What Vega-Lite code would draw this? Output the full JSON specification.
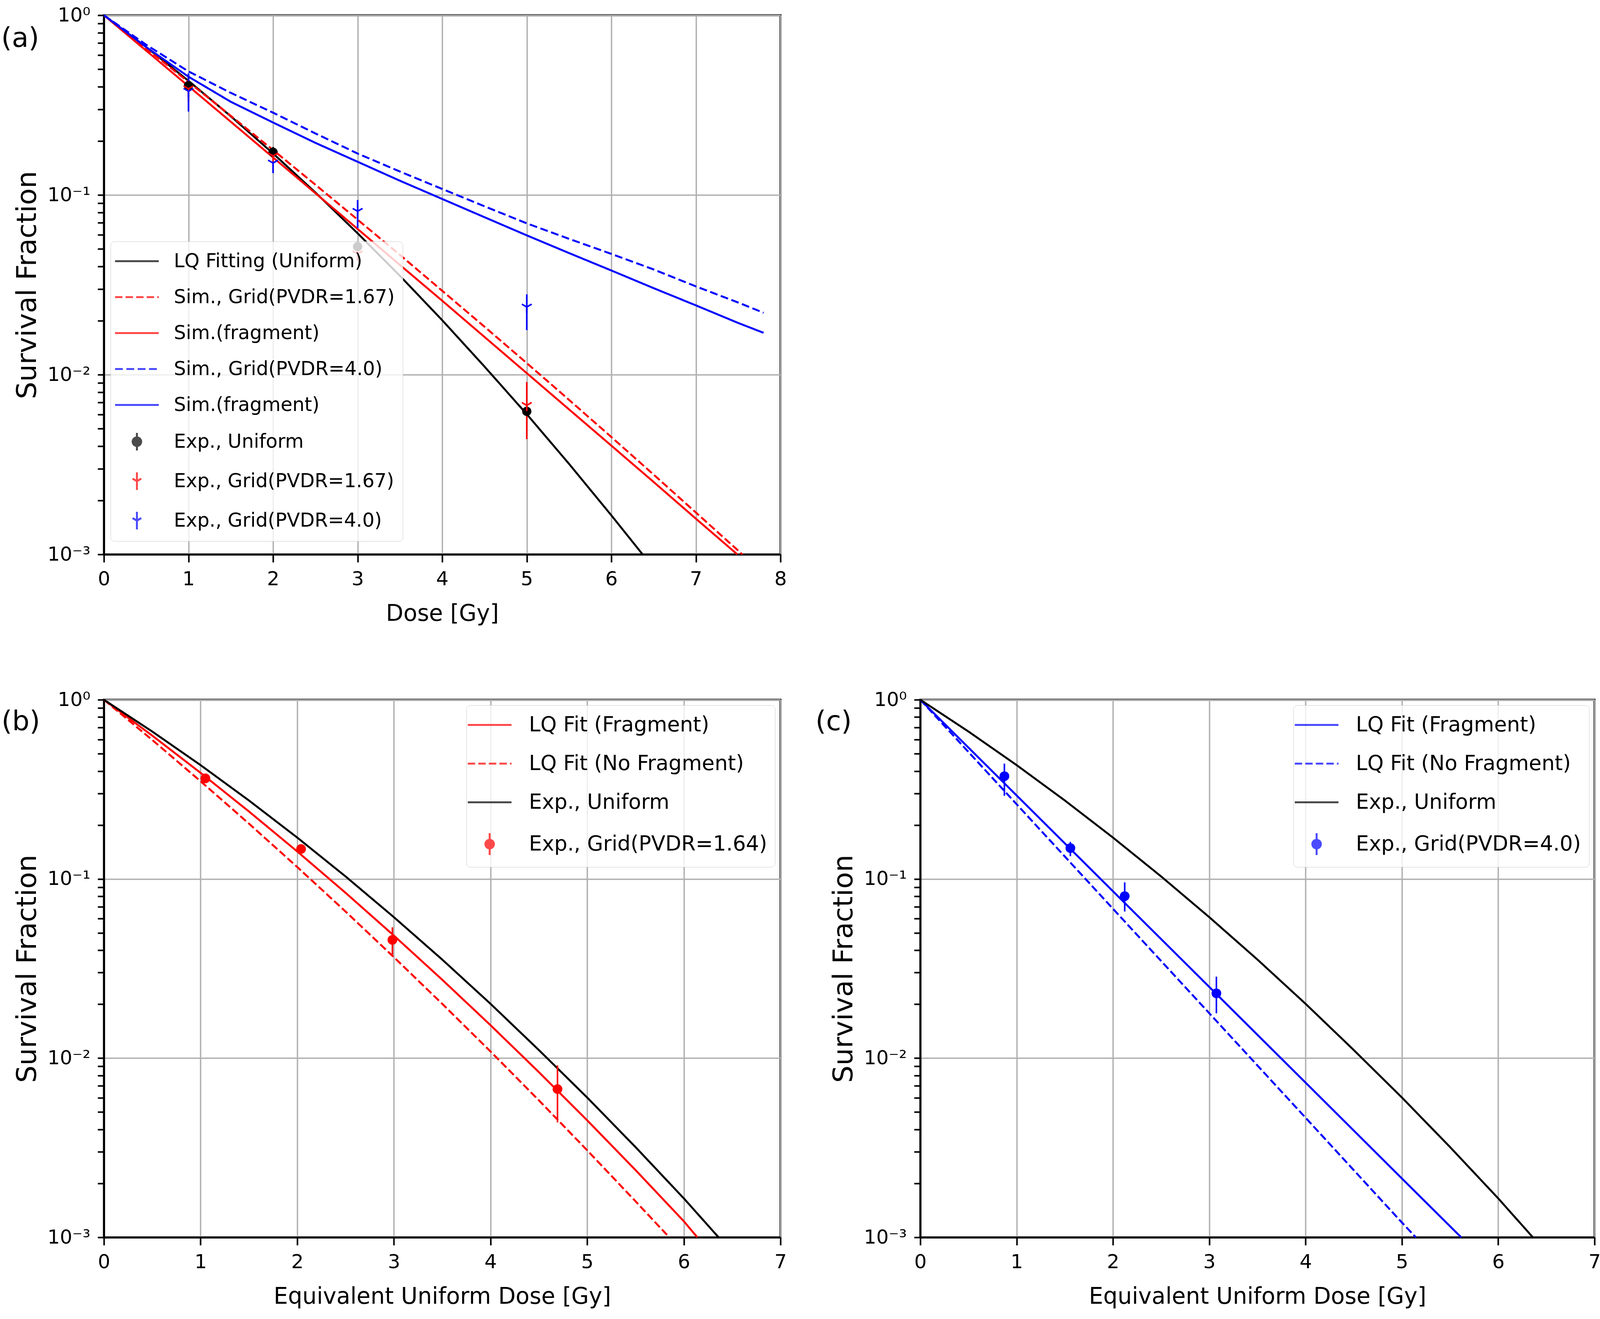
{
  "$schema": "https://vega.github.io/schema/vega-lite/v6.json",
  "padding": {"left": 0, "top": 11, "right": 0, "bottom": 0},
  "background": "white",
  "datasets": {
    "aLines": [
      {"s": "LQ Fitting (Uniform)", "d": 0, "sf": 1},
      {"s": "LQ Fitting (Uniform)", "d": 0.5, "sf": 0.6647},
      {"s": "LQ Fitting (Uniform)", "d": 1, "sf": 0.4318},
      {"s": "LQ Fitting (Uniform)", "d": 1.5, "sf": 0.2742},
      {"s": "LQ Fitting (Uniform)", "d": 2, "sf": 0.1702},
      {"s": "LQ Fitting (Uniform)", "d": 2.5, "sf": 0.1033},
      {"s": "LQ Fitting (Uniform)", "d": 3, "sf": 0.0612},
      {"s": "LQ Fitting (Uniform)", "d": 3.5, "sf": 0.0355},
      {"s": "LQ Fitting (Uniform)", "d": 4, "sf": 0.0201},
      {"s": "LQ Fitting (Uniform)", "d": 4.5, "sf": 0.0111},
      {"s": "LQ Fitting (Uniform)", "d": 5, "sf": 0.00603},
      {"s": "LQ Fitting (Uniform)", "d": 5.5, "sf": 0.00319},
      {"s": "LQ Fitting (Uniform)", "d": 6, "sf": 0.00165},
      {"s": "LQ Fitting (Uniform)", "d": 6.37, "sf": 0.001},
      {"s": "Sim., Grid(PVDR=1.67)", "d": 0, "sf": 1},
      {"s": "Sim., Grid(PVDR=1.67)", "d": 0.5, "sf": 0.6538},
      {"s": "Sim., Grid(PVDR=1.67)", "d": 1, "sf": 0.4255},
      {"s": "Sim., Grid(PVDR=1.67)", "d": 1.5, "sf": 0.2757},
      {"s": "Sim., Grid(PVDR=1.67)", "d": 2, "sf": 0.1779},
      {"s": "Sim., Grid(PVDR=1.67)", "d": 2.5, "sf": 0.1141},
      {"s": "Sim., Grid(PVDR=1.67)", "d": 3, "sf": 0.0729},
      {"s": "Sim., Grid(PVDR=1.67)", "d": 3.5, "sf": 0.0464},
      {"s": "Sim., Grid(PVDR=1.67)", "d": 4, "sf": 0.0293},
      {"s": "Sim., Grid(PVDR=1.67)", "d": 4.5, "sf": 0.01849},
      {"s": "Sim., Grid(PVDR=1.67)", "d": 5, "sf": 0.0116},
      {"s": "Sim., Grid(PVDR=1.67)", "d": 5.5, "sf": 0.00724},
      {"s": "Sim., Grid(PVDR=1.67)", "d": 6, "sf": 0.0045},
      {"s": "Sim., Grid(PVDR=1.67)", "d": 6.5, "sf": 0.00278},
      {"s": "Sim., Grid(PVDR=1.67)", "d": 7, "sf": 0.00171},
      {"s": "Sim., Grid(PVDR=1.67)", "d": 7.55, "sf": 0.001},
      {"s": "Sim.(fragment)", "d": 0, "sf": 1},
      {"s": "Sim.(fragment)", "d": 0.5, "sf": 0.6353},
      {"s": "Sim.(fragment)", "d": 1, "sf": 0.4032},
      {"s": "Sim.(fragment)", "d": 1.5, "sf": 0.2556},
      {"s": "Sim.(fragment)", "d": 2, "sf": 0.1618},
      {"s": "Sim.(fragment)", "d": 2.5, "sf": 0.1024},
      {"s": "Sim.(fragment)", "d": 3, "sf": 0.0647},
      {"s": "Sim.(fragment)", "d": 3.5, "sf": 0.0408},
      {"s": "Sim.(fragment)", "d": 4, "sf": 0.0258},
      {"s": "Sim.(fragment)", "d": 4.5, "sf": 0.01622},
      {"s": "Sim.(fragment)", "d": 5, "sf": 0.0102},
      {"s": "Sim.(fragment)", "d": 5.5, "sf": 0.00641},
      {"s": "Sim.(fragment)", "d": 6, "sf": 0.00403},
      {"s": "Sim.(fragment)", "d": 6.5, "sf": 0.00253},
      {"s": "Sim.(fragment)", "d": 7, "sf": 0.00158},
      {"s": "Sim.(fragment)", "d": 7.49, "sf": 0.001},
      {"s": "Sim., Grid(PVDR=4.0)", "d": 0, "sf": 1},
      {"s": "Sim., Grid(PVDR=4.0)", "d": 0.5, "sf": 0.685},
      {"s": "Sim., Grid(PVDR=4.0)", "d": 1, "sf": 0.487},
      {"s": "Sim., Grid(PVDR=4.0)", "d": 1.5, "sf": 0.37},
      {"s": "Sim., Grid(PVDR=4.0)", "d": 2, "sf": 0.287},
      {"s": "Sim., Grid(PVDR=4.0)", "d": 2.5, "sf": 0.22},
      {"s": "Sim., Grid(PVDR=4.0)", "d": 3, "sf": 0.17},
      {"s": "Sim., Grid(PVDR=4.0)", "d": 3.5, "sf": 0.135},
      {"s": "Sim., Grid(PVDR=4.0)", "d": 4, "sf": 0.108},
      {"s": "Sim., Grid(PVDR=4.0)", "d": 4.5, "sf": 0.0865},
      {"s": "Sim., Grid(PVDR=4.0)", "d": 5, "sf": 0.0695},
      {"s": "Sim., Grid(PVDR=4.0)", "d": 5.5, "sf": 0.057},
      {"s": "Sim., Grid(PVDR=4.0)", "d": 6, "sf": 0.047},
      {"s": "Sim., Grid(PVDR=4.0)", "d": 6.5, "sf": 0.0385},
      {"s": "Sim., Grid(PVDR=4.0)", "d": 7, "sf": 0.031},
      {"s": "Sim., Grid(PVDR=4.0)", "d": 7.5, "sf": 0.0252},
      {"s": "Sim., Grid(PVDR=4.0)", "d": 7.8, "sf": 0.0221},
      {"s": "Sim.(fragment) ", "d": 0, "sf": 1},
      {"s": "Sim.(fragment) ", "d": 0.5, "sf": 0.665},
      {"s": "Sim.(fragment) ", "d": 1, "sf": 0.455},
      {"s": "Sim.(fragment) ", "d": 1.5, "sf": 0.33},
      {"s": "Sim.(fragment) ", "d": 2, "sf": 0.253},
      {"s": "Sim.(fragment) ", "d": 2.5, "sf": 0.195},
      {"s": "Sim.(fragment) ", "d": 3, "sf": 0.153},
      {"s": "Sim.(fragment) ", "d": 3.5, "sf": 0.12},
      {"s": "Sim.(fragment) ", "d": 4, "sf": 0.095},
      {"s": "Sim.(fragment) ", "d": 4.5, "sf": 0.0752},
      {"s": "Sim.(fragment) ", "d": 5, "sf": 0.0596},
      {"s": "Sim.(fragment) ", "d": 5.5, "sf": 0.0475},
      {"s": "Sim.(fragment) ", "d": 6, "sf": 0.038},
      {"s": "Sim.(fragment) ", "d": 6.5, "sf": 0.0303},
      {"s": "Sim.(fragment) ", "d": 7, "sf": 0.0243},
      {"s": "Sim.(fragment) ", "d": 7.5, "sf": 0.0194},
      {"s": "Sim.(fragment) ", "d": 7.8, "sf": 0.0171}
    ],
    "aPts": [
      {"s": "Exp., Uniform", "d": 1, "sf": 0.406, "lo": 0.35, "hi": 0.466},
      {"s": "Exp., Uniform", "d": 2, "sf": 0.173, "lo": 0.161, "hi": 0.185},
      {"s": "Exp., Uniform", "d": 3, "sf": 0.0516, "lo": 0.048, "hi": 0.055},
      {"s": "Exp., Uniform", "d": 5, "sf": 0.00625, "lo": 0.0058, "hi": 0.0067},
      {"s": "Exp., Grid(PVDR=1.67)", "d": 1, "sf": 0.39, "lo": 0.33, "hi": 0.45},
      {"s": "Exp., Grid(PVDR=1.67)", "d": 2, "sf": 0.165, "lo": 0.15, "hi": 0.18},
      {"s": "Exp., Grid(PVDR=1.67)", "d": 3, "sf": 0.047, "lo": 0.043, "hi": 0.051},
      {"s": "Exp., Grid(PVDR=1.67)", "d": 5, "sf": 0.00675, "lo": 0.00438, "hi": 0.0091},
      {"s": "Exp., Grid(PVDR=4.0)", "d": 1, "sf": 0.3775, "lo": 0.291, "hi": 0.475},
      {"s": "Exp., Grid(PVDR=4.0)", "d": 2, "sf": 0.1506, "lo": 0.1323, "hi": 0.17},
      {"s": "Exp., Grid(PVDR=4.0)", "d": 3, "sf": 0.0811, "lo": 0.0654, "hi": 0.0937},
      {"s": "Exp., Grid(PVDR=4.0)", "d": 5, "sf": 0.0238, "lo": 0.0177, "hi": 0.028}
    ],
    "bLines": [
      {"s": "LQ Fit (Fragment)", "d": 0, "sf": 1},
      {"s": "LQ Fit (Fragment)", "d": 0.5, "sf": 0.6308},
      {"s": "LQ Fit (Fragment)", "d": 1, "sf": 0.391},
      {"s": "LQ Fit (Fragment)", "d": 1.5, "sf": 0.2381},
      {"s": "LQ Fit (Fragment)", "d": 2, "sf": 0.1424},
      {"s": "LQ Fit (Fragment)", "d": 2.5, "sf": 0.0837},
      {"s": "LQ Fit (Fragment)", "d": 3, "sf": 0.0483},
      {"s": "LQ Fit (Fragment)", "d": 3.5, "sf": 0.0274},
      {"s": "LQ Fit (Fragment)", "d": 4, "sf": 0.01527},
      {"s": "LQ Fit (Fragment)", "d": 4.5, "sf": 0.00836},
      {"s": "LQ Fit (Fragment)", "d": 5, "sf": 0.0045},
      {"s": "LQ Fit (Fragment)", "d": 5.5, "sf": 0.002375},
      {"s": "LQ Fit (Fragment)", "d": 6, "sf": 0.00123},
      {"s": "LQ Fit (Fragment)", "d": 6.14, "sf": 0.001},
      {"s": "LQ Fit (No Fragment)", "d": 0, "sf": 1},
      {"s": "LQ Fit (No Fragment)", "d": 0.5, "sf": 0.5966},
      {"s": "LQ Fit (No Fragment)", "d": 1, "sf": 0.351},
      {"s": "LQ Fit (No Fragment)", "d": 1.5, "sf": 0.2037},
      {"s": "LQ Fit (No Fragment)", "d": 2, "sf": 0.1166},
      {"s": "LQ Fit (No Fragment)", "d": 2.5, "sf": 0.0658},
      {"s": "LQ Fit (No Fragment)", "d": 3, "sf": 0.0366},
      {"s": "LQ Fit (No Fragment)", "d": 3.5, "sf": 0.0201},
      {"s": "LQ Fit (No Fragment)", "d": 4, "sf": 0.0109},
      {"s": "LQ Fit (No Fragment)", "d": 4.5, "sf": 0.00582},
      {"s": "LQ Fit (No Fragment)", "d": 5, "sf": 0.00306},
      {"s": "LQ Fit (No Fragment)", "d": 5.5, "sf": 0.00159},
      {"s": "LQ Fit (No Fragment)", "d": 5.85, "sf": 0.001},
      {"s": "Exp., Uniform", "d": 0, "sf": 1},
      {"s": "Exp., Uniform", "d": 0.5, "sf": 0.6647},
      {"s": "Exp., Uniform", "d": 1, "sf": 0.4318},
      {"s": "Exp., Uniform", "d": 1.5, "sf": 0.2742},
      {"s": "Exp., Uniform", "d": 2, "sf": 0.1702},
      {"s": "Exp., Uniform", "d": 2.5, "sf": 0.1033},
      {"s": "Exp., Uniform", "d": 3, "sf": 0.0612},
      {"s": "Exp., Uniform", "d": 3.5, "sf": 0.0355},
      {"s": "Exp., Uniform", "d": 4, "sf": 0.0201},
      {"s": "Exp., Uniform", "d": 4.5, "sf": 0.0111},
      {"s": "Exp., Uniform", "d": 5, "sf": 0.00603},
      {"s": "Exp., Uniform", "d": 5.5, "sf": 0.00319},
      {"s": "Exp., Uniform", "d": 6, "sf": 0.00165},
      {"s": "Exp., Uniform", "d": 6.36, "sf": 0.001}
    ],
    "bPts": [
      {"s": "Exp., Grid(PVDR=1.64)", "d": 1.05, "sf": 0.364, "lo": 0.345, "hi": 0.385},
      {"s": "Exp., Grid(PVDR=1.64)", "d": 2.04, "sf": 0.147, "lo": 0.14, "hi": 0.155},
      {"s": "Exp., Grid(PVDR=1.64)", "d": 2.985, "sf": 0.0457, "lo": 0.0378, "hi": 0.0537},
      {"s": "Exp., Grid(PVDR=1.64)", "d": 4.693, "sf": 0.00672, "lo": 0.00438, "hi": 0.0091}
    ],
    "cLines": [
      {"s": "LQ Fit (Fragment)", "d": 0, "sf": 1},
      {"s": "LQ Fit (Fragment)", "d": 1, "sf": 0.2923},
      {"s": "LQ Fit (Fragment)", "d": 2, "sf": 0.0854},
      {"s": "LQ Fit (Fragment)", "d": 3, "sf": 0.02497},
      {"s": "LQ Fit (Fragment)", "d": 4, "sf": 0.0073},
      {"s": "LQ Fit (Fragment)", "d": 5, "sf": 0.00213},
      {"s": "LQ Fit (Fragment)", "d": 5.616, "sf": 0.001},
      {"s": "LQ Fit (No Fragment)", "d": 0, "sf": 1},
      {"s": "LQ Fit (No Fragment)", "d": 1, "sf": 0.2612},
      {"s": "LQ Fit (No Fragment)", "d": 2, "sf": 0.0682},
      {"s": "LQ Fit (No Fragment)", "d": 3, "sf": 0.01781},
      {"s": "LQ Fit (No Fragment)", "d": 4, "sf": 0.00465},
      {"s": "LQ Fit (No Fragment)", "d": 5, "sf": 0.00121},
      {"s": "LQ Fit (No Fragment)", "d": 5.145, "sf": 0.001},
      {"s": "Exp., Uniform", "d": 0, "sf": 1},
      {"s": "Exp., Uniform", "d": 0.5, "sf": 0.6647},
      {"s": "Exp., Uniform", "d": 1, "sf": 0.4318},
      {"s": "Exp., Uniform", "d": 1.5, "sf": 0.2742},
      {"s": "Exp., Uniform", "d": 2, "sf": 0.1702},
      {"s": "Exp., Uniform", "d": 2.5, "sf": 0.1033},
      {"s": "Exp., Uniform", "d": 3, "sf": 0.0612},
      {"s": "Exp., Uniform", "d": 3.5, "sf": 0.0355},
      {"s": "Exp., Uniform", "d": 4, "sf": 0.0201},
      {"s": "Exp., Uniform", "d": 4.5, "sf": 0.0111},
      {"s": "Exp., Uniform", "d": 5, "sf": 0.00603},
      {"s": "Exp., Uniform", "d": 5.5, "sf": 0.00319},
      {"s": "Exp., Uniform", "d": 6, "sf": 0.00165},
      {"s": "Exp., Uniform", "d": 6.36, "sf": 0.001}
    ],
    "cPts": [
      {"s": "Exp., Grid(PVDR=4.0)", "d": 0.873, "sf": 0.3745, "lo": 0.291, "hi": 0.44},
      {"s": "Exp., Grid(PVDR=4.0)", "d": 1.558, "sf": 0.1487, "lo": 0.134, "hi": 0.161},
      {"s": "Exp., Grid(PVDR=4.0)", "d": 2.122, "sf": 0.0802, "lo": 0.0658, "hi": 0.0957},
      {"s": "Exp., Grid(PVDR=4.0)", "d": 3.074, "sf": 0.023, "lo": 0.0178, "hi": 0.0285}
    ]
  },
  "vconcat": [
    {
      "width": 1732,
      "height": 1380,
      "layer": [
        {
          "data": {"name": "aLines"},
          "mark": {"type": "line", "strokeWidth": 5},
          "encoding": {
            "x": {"field": "d", "type": "quantitative", "scale": {"domain": [0, 8], "nice": false},
              "axis": {"title": "Dose [Gy]", "values": [0, 1, 2, 3, 4, 5, 6, 7, 8], "format": "d"}},
            "y": {"field": "sf", "type": "quantitative", "scale": {"type": "log", "domain": [0.001, 1], "nice": false},
              "axis": {
                "title": "Survival Fraction",
                "values": [0.001, 0.002, 0.003, 0.004, 0.005, 0.006, 0.007, 0.008, 0.009, 0.01, 0.02, 0.03, 0.04, 0.05, 0.06, 0.07, 0.08, 0.09, 0.1, 0.2, 0.3, 0.4, 0.5, 0.6, 0.7, 0.8, 0.9, 1],
                "labelExpr": "datum.value == 1 ? '10⁰' : datum.value == 0.1 ? '10⁻¹' : datum.value == 0.01 ? '10⁻²' : datum.value == 0.001 ? '10⁻³' : ''",
                "gridOpacity": {"condition": {"test": "indexof([1, 0.1, 0.01, 0.001], datum.value) >= 0", "value": 1}, "value": 0},
                "encode": {"ticks": {"x2": {"value": {"expr": "indexof([1, 0.1, 0.01, 0.001], datum.value) >= 0 ? -16 : -10"}}}}
              }},
            "color": {
              "field": "s", "type": "nominal",
              "scale": {
                "domain": ["LQ Fitting (Uniform)", "Sim., Grid(PVDR=1.67)", "Sim.(fragment)", "Sim., Grid(PVDR=4.0)", "Sim.(fragment) ", "Exp., Uniform", "Exp., Grid(PVDR=1.67)", "Exp., Grid(PVDR=4.0)"],
                "range": ["black", "red", "red", "blue", "blue", "black", "red", "blue"]
              },
              "legend": {
                "title": null,
                "orient": "none",
                "legendX": 17,
                "legendY": 579,
                "direction": "vertical",
                "labelFontSize": 49,
                "labelLimit": 3000,
                "symbolSize": 3136,
                "symbolStrokeWidth": 5,
                "symbolOpacity": 1,
                "labelOffset": 64,
                "symbolOffset": 17,
                "padding": 20,
                "rowPadding": 36,
                "fillColor": "rgba(255,255,255,0.8)",
                "strokeColor": "#cccccc",
                "cornerRadius": 10
              }
            },
            "strokeDash": {
              "field": "s", "type": "nominal",
              "scale": {
                "domain": ["LQ Fitting (Uniform)", "Sim., Grid(PVDR=1.67)", "Sim.(fragment)", "Sim., Grid(PVDR=4.0)", "Sim.(fragment) ", "Exp., Uniform", "Exp., Grid(PVDR=1.67)", "Exp., Grid(PVDR=4.0)"],
                "range": [[1, 0], [19, 8], [1, 0], [20, 9], [1, 0], [1, 0], [1, 0], [1, 0]]
              }
            },
            "strokeWidth": {"condition": {"test": "datum.s == 'Sim., Grid(PVDR=4.0)' || datum.s == 'Sim.(fragment) '", "value": 6.5}, "value": 5}
          }
        },
        {
          "data": {"name": "aPts"},
          "transform": [{"filter": "false"}],
          "mark": {"type": "point"},
          "encoding": {
            "x": {"field": "d", "type": "quantitative"},
            "y": {"field": "sf", "type": "quantitative"},
            "shape": {
              "field": "s", "type": "nominal",
              "scale": {
                "domain": ["LQ Fitting (Uniform)", "Sim., Grid(PVDR=1.67)", "Sim.(fragment)", "Sim., Grid(PVDR=4.0)", "Sim.(fragment) ", "Exp., Uniform", "Exp., Grid(PVDR=1.67)", "Exp., Grid(PVDR=4.0)"],
                "range": ["M-2,0L2,0", "M-2,0L2,0", "M-2,0L2,0", "M-2,0L2,0", "M-2,0L2,0",
                  "M0,-0.8L0,0.8M0.39,0A0.39,0.39,0,1,1,-0.39,0A0.39,0.39,0,1,1,0.39,0M0.25,0A0.25,0.25,0,1,1,-0.25,0A0.25,0.25,0,1,1,0.25,0M0.11,0A0.11,0.11,0,1,1,-0.11,0A0.11,0.11,0,1,1,0.11,0",
                  "M0,-0.8L0,0.8M0,0L-0.4,-0.23M0,0L0.4,-0.23",
                  "M0,-0.8L0,0.8M0,0L-0.4,-0.23M0,0L0.4,-0.23"]
              }
            }
          }
        },
        {
          "data": {"name": "aPts"},
          "mark": {"type": "rule", "strokeWidth": 4},
          "encoding": {
            "x": {"field": "d", "type": "quantitative"},
            "y": {"field": "lo", "type": "quantitative"},
            "y2": {"field": "hi"},
            "color": {"field": "s", "type": "nominal", "legend": null}
          }
        },
        {
          "data": {"name": "aPts"},
          "transform": [{"filter": "datum.s == 'Exp., Uniform'"}],
          "mark": {"type": "point", "shape": "circle", "filled": true, "size": 560, "opacity": 1},
          "encoding": {
            "x": {"field": "d", "type": "quantitative"},
            "y": {"field": "sf", "type": "quantitative"},
            "color": {"field": "s", "type": "nominal", "legend": null}
          }
        },
        {
          "data": {"name": "aPts"},
          "transform": [{"filter": "datum.s != 'Exp., Uniform'"}],
          "mark": {"type": "point", "shape": "M0,0L0,1M0,0L-0.866,-0.5M0,0L0.866,-0.5", "filled": false, "size": 841, "strokeWidth": 4, "opacity": 1},
          "encoding": {
            "x": {"field": "d", "type": "quantitative"},
            "y": {"field": "sf", "type": "quantitative"},
            "color": {"field": "s", "type": "nominal", "legend": null}
          }
        },
        {
          "data": {"values": [{"t": "(a)"}]},
          "mark": {"type": "text", "fontSize": 70, "align": "center", "baseline": "middle", "color": "black"},
          "encoding": {
            "x": {"datum": -0.99, "type": "quantitative"},
            "y": {"datum": 0.741, "type": "quantitative"},
            "text": {"field": "t"}
          }
        }
      ]
    },
    {
      "hconcat": [
        {
          "width": 1732,
          "height": 1376,
          "layer": [
            {
              "data": {"name": "bLines"},
              "mark": {"type": "line", "strokeWidth": 5},
              "encoding": {
                "x": {"field": "d", "type": "quantitative", "scale": {"domain": [0, 7], "nice": false},
                  "axis": {"title": "Equivalent Uniform Dose [Gy]", "values": [0, 1, 2, 3, 4, 5, 6, 7], "format": "d"}},
                "y": {"field": "sf", "type": "quantitative", "scale": {"type": "log", "domain": [0.001, 1], "nice": false},
                  "axis": {
                    "title": "Survival Fraction",
                    "values": [0.001, 0.002, 0.003, 0.004, 0.005, 0.006, 0.007, 0.008, 0.009, 0.01, 0.02, 0.03, 0.04, 0.05, 0.06, 0.07, 0.08, 0.09, 0.1, 0.2, 0.3, 0.4, 0.5, 0.6, 0.7, 0.8, 0.9, 1],
                    "labelExpr": "datum.value == 1 ? '10⁰' : datum.value == 0.1 ? '10⁻¹' : datum.value == 0.01 ? '10⁻²' : datum.value == 0.001 ? '10⁻³' : ''",
                    "gridOpacity": {"condition": {"test": "indexof([1, 0.1, 0.01, 0.001], datum.value) >= 0", "value": 1}, "value": 0},
                    "encode": {"ticks": {"x2": {"value": {"expr": "indexof([1, 0.1, 0.01, 0.001], datum.value) >= 0 ? -16 : -10"}}}}
                  }},
                "color": {
                  "field": "s", "type": "nominal",
                  "scale": {
                    "domain": ["LQ Fit (Fragment)", "LQ Fit (No Fragment)", "Exp., Uniform", "Exp., Grid(PVDR=1.64)"],
                    "range": ["red", "red", "black", "red"]
                  },
                  "legend": {
                    "title": null,
                    "orient": "top-right",
                    "offset": 14,
                    "direction": "vertical",
                    "labelFontSize": 53,
                    "labelLimit": 3000,
                    "symbolSize": 3136,
                    "symbolStrokeWidth": 5,
                    "symbolOpacity": 1,
                    "labelOffset": 70,
                    "symbolOffset": 9,
                    "padding": 20,
                    "rowPadding": 41,
                    "fillColor": "rgba(255,255,255,0.8)",
                    "strokeColor": "#cccccc",
                    "cornerRadius": 10
                  }
                },
                "strokeDash": {
                  "field": "s", "type": "nominal",
                  "scale": {"domain": ["LQ Fit (Fragment)", "LQ Fit (No Fragment)", "Exp., Uniform", "Exp., Grid(PVDR=1.64)"], "range": [[1, 0], [19, 8], [1, 0], [1, 0]]}
                }
              }
            },
            {
              "data": {"name": "bPts"},
              "transform": [{"filter": "false"}],
              "mark": {"type": "point"},
              "encoding": {
                "x": {"field": "d", "type": "quantitative"},
                "y": {"field": "sf", "type": "quantitative"},
                "shape": {
                  "field": "s", "type": "nominal",
                  "scale": {
                    "domain": ["LQ Fit (Fragment)", "LQ Fit (No Fragment)", "Exp., Uniform", "Exp., Grid(PVDR=1.64)"],
                    "range": ["M-2,0L2,0", "M-2,0L2,0", "M-2,0L2,0",
                      "M0,-1L0,1M0.39,0A0.39,0.39,0,1,1,-0.39,0A0.39,0.39,0,1,1,0.39,0M0.25,0A0.25,0.25,0,1,1,-0.25,0A0.25,0.25,0,1,1,0.25,0M0.11,0A0.11,0.11,0,1,1,-0.11,0A0.11,0.11,0,1,1,0.11,0"]
                  }
                }
              }
            },
            {
              "data": {"name": "bPts"},
              "mark": {"type": "rule", "strokeWidth": 4},
              "encoding": {
                "x": {"field": "d", "type": "quantitative"},
                "y": {"field": "lo", "type": "quantitative"},
                "y2": {"field": "hi"},
                "color": {"field": "s", "type": "nominal", "legend": null}
              }
            },
            {
              "data": {"name": "bPts"},
              "mark": {"type": "point", "shape": "circle", "filled": true, "size": 620, "opacity": 1},
              "encoding": {
                "x": {"field": "d", "type": "quantitative"},
                "y": {"field": "sf", "type": "quantitative"},
                "color": {"field": "s", "type": "nominal", "legend": null}
              }
            },
            {
              "data": {"values": [{"t": "(b)"}]},
              "mark": {"type": "text", "fontSize": 70, "align": "center", "baseline": "middle", "color": "black"},
              "encoding": {
                "x": {"datum": -0.86, "type": "quantitative"},
                "y": {"datum": 0.752, "type": "quantitative"},
                "text": {"field": "t"}
              }
            }
          ]
        },
        {
          "width": 1726,
          "height": 1376,
          "layer": [
            {
              "data": {"name": "cLines"},
              "mark": {"type": "line", "strokeWidth": 5},
              "encoding": {
                "x": {"field": "d", "type": "quantitative", "scale": {"domain": [0, 7], "nice": false},
                  "axis": {"title": "Equivalent Uniform Dose [Gy]", "values": [0, 1, 2, 3, 4, 5, 6, 7], "format": "d"}},
                "y": {"field": "sf", "type": "quantitative", "scale": {"type": "log", "domain": [0.001, 1], "nice": false},
                  "axis": {
                    "title": "Survival Fraction",
                    "values": [0.001, 0.002, 0.003, 0.004, 0.005, 0.006, 0.007, 0.008, 0.009, 0.01, 0.02, 0.03, 0.04, 0.05, 0.06, 0.07, 0.08, 0.09, 0.1, 0.2, 0.3, 0.4, 0.5, 0.6, 0.7, 0.8, 0.9, 1],
                    "labelExpr": "datum.value == 1 ? '10⁰' : datum.value == 0.1 ? '10⁻¹' : datum.value == 0.01 ? '10⁻²' : datum.value == 0.001 ? '10⁻³' : ''",
                    "gridOpacity": {"condition": {"test": "indexof([1, 0.1, 0.01, 0.001], datum.value) >= 0", "value": 1}, "value": 0},
                    "encode": {"ticks": {"x2": {"value": {"expr": "indexof([1, 0.1, 0.01, 0.001], datum.value) >= 0 ? -16 : -10"}}}}
                  }},
                "color": {
                  "field": "s", "type": "nominal",
                  "scale": {
                    "domain": ["LQ Fit (Fragment)", "LQ Fit (No Fragment)", "Exp., Uniform", "Exp., Grid(PVDR=4.0)"],
                    "range": ["blue", "blue", "black", "blue"]
                  },
                  "legend": {
                    "title": null,
                    "orient": "top-right",
                    "offset": 14,
                    "direction": "vertical",
                    "labelFontSize": 53,
                    "labelLimit": 3000,
                    "symbolSize": 3136,
                    "symbolStrokeWidth": 5,
                    "symbolOpacity": 1,
                    "labelOffset": 70,
                    "symbolOffset": 9,
                    "padding": 20,
                    "rowPadding": 41,
                    "fillColor": "rgba(255,255,255,0.8)",
                    "strokeColor": "#cccccc",
                    "cornerRadius": 10
                  }
                },
                "strokeDash": {
                  "field": "s", "type": "nominal",
                  "scale": {"domain": ["LQ Fit (Fragment)", "LQ Fit (No Fragment)", "Exp., Uniform", "Exp., Grid(PVDR=4.0)"], "range": [[1, 0], [19, 8], [1, 0], [1, 0]]}
                }
              }
            },
            {
              "data": {"name": "cPts"},
              "transform": [{"filter": "false"}],
              "mark": {"type": "point"},
              "encoding": {
                "x": {"field": "d", "type": "quantitative"},
                "y": {"field": "sf", "type": "quantitative"},
                "shape": {
                  "field": "s", "type": "nominal",
                  "scale": {
                    "domain": ["LQ Fit (Fragment)", "LQ Fit (No Fragment)", "Exp., Uniform", "Exp., Grid(PVDR=4.0)"],
                    "range": ["M-2,0L2,0", "M-2,0L2,0", "M-2,0L2,0",
                      "M0,-1L0,1M0.39,0A0.39,0.39,0,1,1,-0.39,0A0.39,0.39,0,1,1,0.39,0M0.25,0A0.25,0.25,0,1,1,-0.25,0A0.25,0.25,0,1,1,0.25,0M0.11,0A0.11,0.11,0,1,1,-0.11,0A0.11,0.11,0,1,1,0.11,0"]
                  }
                }
              }
            },
            {
              "data": {"name": "cPts"},
              "mark": {"type": "rule", "strokeWidth": 4},
              "encoding": {
                "x": {"field": "d", "type": "quantitative"},
                "y": {"field": "lo", "type": "quantitative"},
                "y2": {"field": "hi"},
                "color": {"field": "s", "type": "nominal", "legend": null}
              }
            },
            {
              "data": {"name": "cPts"},
              "mark": {"type": "point", "shape": "circle", "filled": true, "size": 620, "opacity": 1},
              "encoding": {
                "x": {"field": "d", "type": "quantitative"},
                "y": {"field": "sf", "type": "quantitative"},
                "color": {"field": "s", "type": "nominal", "legend": null}
              }
            },
            {
              "data": {"values": [{"t": "(c)"}]},
              "mark": {"type": "text", "fontSize": 70, "align": "center", "baseline": "middle", "color": "black"},
              "encoding": {
                "x": {"datum": -0.9, "type": "quantitative"},
                "y": {"datum": 0.752, "type": "quantitative"},
                "text": {"field": "t"}
              }
            }
          ]
        }
      ],
      "spacing": 68,
      "resolve": {"scale": {"color": "independent", "strokeDash": "independent", "shape": "independent"}, "legend": {"color": "independent", "strokeDash": "independent", "shape": "independent"}}
    }
  ],
  "spacing": 160,
  "resolve": {"scale": {"color": "independent", "strokeDash": "independent", "shape": "independent"}, "legend": {"color": "independent", "strokeDash": "independent", "shape": "independent"}},
  "config": {
    "font": "DejaVu Sans",
    "view": {"stroke": "black", "strokeWidth": 5},
    "axis": {
      "domainColor": "black",
      "domainWidth": 5,
      "tickColor": "black",
      "tickWidth": 4,
      "tickSize": 20,
      "labelFontSize": 50,
      "labelColor": "black",
      "labelPadding": 18,
      "labelFlush": false,
      "labelOverlap": false,
      "titleFontSize": 58,
      "titleFontWeight": "normal",
      "titleColor": "black",
      "titlePadding": 35,
      "gridColor": "#b0b0b0",
      "gridWidth": 3.5
    },
    "axisY": {"tickSize": 16, "labelPadding": 19, "titlePadding": 14, "titleFontSize": 70},
    "legend": {"labelColor": "black"}
  }
}
